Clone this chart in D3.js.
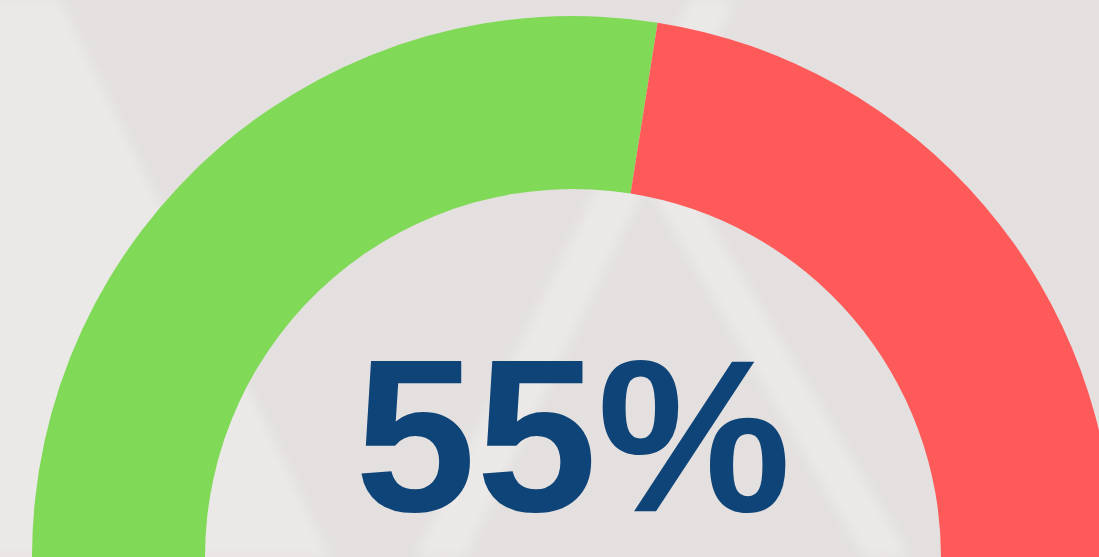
<!DOCTYPE html>
<html>
<head>
<meta charset="utf-8">
<script src="https://cdn.jsdelivr.net/npm/d3@7"></script>
<style>
    body { margin: 0; overflow: hidden; background: #e3e0df; }
</style>
</head>
<body>
<div id="chart"></div>
<script>
// gauge data
let labels = ["Achieved", "Remaining"];
let shares = [55, 45];
let colors = ["#80d957", "#ff5a5a"];
let valueText = "55%";

let canvas = {width: 1099, height: 557};

let svg = d3.select("#chart")
    .append("svg")
    .attr("width", canvas.width)
    .attr("height", canvas.height);

// blur for the soft background bands
svg.append("defs")
    .append("filter")
    .attr("id", "soft")
    .append("feGaussianBlur")
    .attr("stdDeviation", 6);

// soft diagonal background bands
let bg = svg.append("g").attr("class", "background");
bg.append("rect")
    .attr("width", canvas.width)
    .attr("height", canvas.height)
    .attr("fill", "#e3e0df");
let bands = [
    [[-20, 0], [60, 0], [330, 557], [-20, 557]],
    [[690, 0], [735, 0], [465, 557], [415, 557]],
    [[650, 190], [690, 190], [910, 557], [865, 557]]
];
bg.selectAll("polygon")
    .data(bands)
    .enter()
    .append("polygon")
    .attr("points", d => d.map(p => p.join(",")).join(" "))
    .attr("fill", "#f4f2f1")
    .attr("opacity", 0.5)
    .attr("filter", "url(#soft)");

// half donut
let center = {x: 573, y: 557};
let pie = d3.pie()
    .sort(null)
    .startAngle(-Math.PI / 2)
    .endAngle(Math.PI / 2)
    .value(d => d);
let arc = d3.arc()
    .innerRadius(368)
    .outerRadius(541);

let gauge = svg.append("g")
    .attr("transform", "translate(" + center.x + "," + center.y + ")");

gauge.selectAll("path.slice")
    .data(pie(shares))
    .enter()
    .append("path")
    .attr("class", "slice")
    .attr("d", arc)
    .attr("fill", (d, i) => colors[i]);

// value label
gauge.append("text")
    .attr("x", 0)
    .attr("y", -46)
    .attr("text-anchor", "middle")
    .style("font-family", "'Liberation Sans', Arial, sans-serif")
    .style("font-weight", "bold")
    .style("font-size", "218px")
    .attr("fill", "#0e4477")
    .text(valueText);
</script>
</body>
</html>
